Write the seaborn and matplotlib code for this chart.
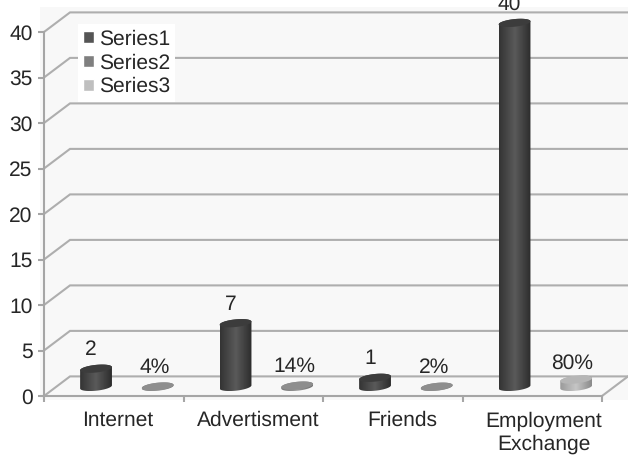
import numpy as np
import pandas as pd
import matplotlib
matplotlib.use("Agg")
import matplotlib.pyplot as plt
from matplotlib.colors import LinearSegmentedColormap
from matplotlib.patches import Polygon, Rectangle
import seaborn as sns

# --- data ---
categories = ["Internet", "Advertisment", "Friends", "Employment\nExchange"]
series1 = [2, 7, 1, 40]
series2 = [0.04, 0.14, 0.02, np.nan]
series3 = [np.nan, np.nan, np.nan, 0.80]
labels1 = ["2", "7", "1", "40"]
labels2 = ["4%", "14%", "2%", None]
labels3 = [None, None, None, "80%"]
yticks = [0, 5, 10, 15, 20, 25, 30, 35, 40]

W, H = 628, 457
sns.set_theme(style="white")
plt.rcParams["font.family"] = ["Liberation Sans", "DejaVu Sans"]
plt.rcParams["text.hinting"] = "no_hinting"
plt.rcParams["text.hinting_factor"] = 1
TEXT = "#262626"
GRID = "#aeaeae"
AXIS = "#a6a6a6"
FS = 15.4

fig = plt.figure(figsize=(W / 100, H / 100), dpi=100, facecolor="white")
L, R, B, T = 44, 602, 396, 32
ax = fig.add_axes([L / W, 1 - B / H, (R - L) / W, (B - T) / H])
ax.patch.set_visible(False)
fig.add_artist(Rectangle((40 / W, 1 - 400 / H), 588 / W, 393 / H, transform=fig.transFigure,
                         facecolor="#f8f8f8", edgecolor="none", zorder=-5))

xlim, ylim = (0, 4), (0, 40)
PX, PY = (R - L) / 4, (B - T) / 40
DX, DY = 26 / PX, 19.6 / PY
BASE = 1.0
RX, RY, TILT = 16.0, 3.8, np.deg2rad(6)


def frame(t, cx, cy):
    ex, ey = RX * np.cos(t), RY * np.sin(t)
    return (cx + (ex * np.cos(TILT) - ey * np.sin(TILT)) / PX,
            cy + (ex * np.sin(TILT) + ey * np.cos(TILT)) / PY)


styles = [
    ("Series1", series1, labels1, 0.373, "#555555", ["#343434", "#5a5a5a", "#2c2c2c"], "#3c3c3c", -5, 19),
    ("Series2", series2, labels2, 0.815, "#7f7f7f", ["#777777", "#999999", "#707070"], "#8e8e8e", -3, 19),
    ("Series3", series3, labels3, 0.815, "#bfbfbf", ["#9a9a9a", "#c6c6c6", "#8a8a8a"], "#b6b6b6", -4, 16),
]

for name, vals, labs, off, legc, stops, topc, lx, ly in styles:
    df = pd.DataFrame({"pos": np.arange(4) + off, "value": vals})
    before = len(ax.patches)
    sns.barplot(data=df, x="pos", y="value", native_scale=True, width=2 * RX / PX, color=legc,
                errorbar=None, bottom=BASE, ax=ax, label=name, saturation=1, zorder=3)
    bars = ax.patches[before:]
    cmap = LinearSegmentedColormap.from_list(name, stops)
    for bar in bars:
        bar.set_visible(False)
        cx = bar.get_x() + bar.get_width() / 2
        y0, y1 = bar.get_y(), bar.get_y() + bar.get_height()
        tb = np.linspace(np.pi, 2 * np.pi, 40)
        tt = np.linspace(0, np.pi, 40)
        xs = np.r_[frame(tb, cx, y0)[0], frame(tt, cx, y1)[0]]
        ys = np.r_[frame(tb, cx, y0)[1], frame(tt, cx, y1)[1]]
        body = Polygon(np.c_[xs, ys], closed=True, facecolor="none", edgecolor="none",
                       transform=ax.transData, clip_on=False, zorder=3)
        ax.add_patch(body)
        im = ax.imshow(np.linspace(0, 1, 64).reshape(1, -1),
                       extent=[xs.min(), xs.max(), ys.min(), ys.max()],
                       aspect="auto", cmap=cmap, zorder=3.1)
        im.set_clip_box(fig.bbox)
        im.set_clip_path(body)
        t = np.linspace(0, 2 * np.pi, 80)
        ax.fill(*frame(t, cx, y1), color=topc, lw=0, clip_on=False, zorder=3.2)
    # value labels
    shown = [(p, v, s) for p, v, s in zip(df["pos"], vals, labs) if s is not None]
    for p, v, s in shown:
        ax.annotate(s, (p, BASE + v), xytext=(lx * 0.72, ly * 0.72), textcoords="offset points",
                    ha="center", va="center", fontsize=FS, color=TEXT, zorder=4,
                    annotation_clip=False)

# pseudo-3D walls
for y in yticks:
    ax.plot([0, DX, 4 + DX], [y, y + DY, y + DY], color=GRID, lw=1.5, clip_on=False, zorder=1,
            solid_joinstyle="miter")
ax.plot([4, 4 + DX], [0, DY], color=GRID, lw=1.5, clip_on=False, zorder=1)

ax.set_xlim(*xlim)
ax.set_ylim(*ylim)
ax.set_xlabel("")
ax.set_ylabel("")
ax.set_yticks(yticks)
ax.set_xticks(range(5))
ax.set_xticklabels([])
label_pos = [0.525, 1.535, 2.565, 3.585]
ax.set_xticks(label_pos, labels=categories, minor=True)
for lab in ax.get_xticklabels(minor=True):
    lab.set_linespacing(1.22)
ax.tick_params(axis="y", which="major", left=True, length=4.3, width=1.5, color=AXIS, pad=4,
               labelsize=FS, labelcolor=TEXT)
ax.tick_params(axis="x", which="major", bottom=True, length=4.3, width=1.5, color=AXIS)
ax.tick_params(axis="x", which="minor", bottom=False, length=0, pad=10.8, labelsize=FS, labelcolor=TEXT)
for s in ("top", "right"):
    ax.spines[s].set_visible(False)
for s in ("left", "bottom"):
    ax.spines[s].set_color(AXIS)
    ax.spines[s].set_linewidth(1.5)

leg = ax.legend(loc="upper left", bbox_to_anchor=(78 / W, 1 - 24 / H), bbox_transform=fig.transFigure,
                borderaxespad=0, frameon=True, framealpha=1, fancybox=False, edgecolor="none",
                facecolor="white", fontsize=FS, handlelength=0.48, handleheight=0.48,
                handletextpad=0.24, labelspacing=0.2, borderpad=0.25, labelcolor=TEXT)
for h in leg.get_patches():
    h.set_visible(True)

fig.savefig("out.png", dpi=100)
